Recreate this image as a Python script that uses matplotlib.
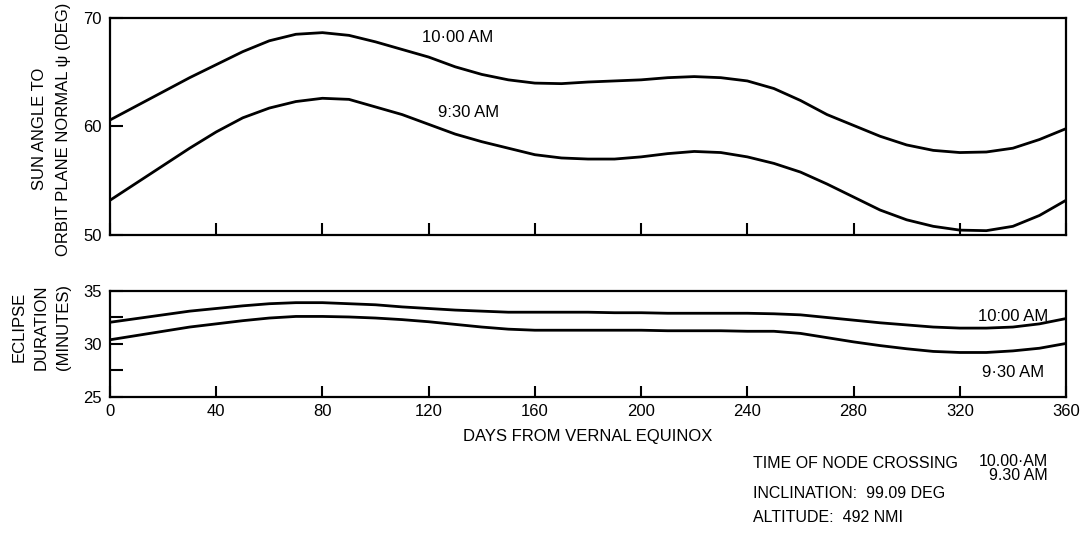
import matplotlib.pyplot as plt

plt.rcParams['font.family'] = ['Liberation Sans', 'DejaVu Sans']

# days from vernal equinox, every 10 days
days = list(range(0, 361, 10))

# sun angle to orbit plane normal (deg)
sun_angle_1000 = [60.6, 61.9, 63.2, 64.5, 65.7, 66.9, 67.9, 68.5, 68.65, 68.4,
                  67.8, 67.1, 66.4, 65.5, 64.8, 64.3, 64.0, 63.95, 64.1, 64.2,
                  64.3, 64.5, 64.6, 64.5, 64.2, 63.5, 62.4, 61.1, 60.1, 59.1,
                  58.3, 57.8, 57.6, 57.65, 58.0, 58.8, 59.8]
sun_angle_0930 = [53.2, 54.8, 56.4, 58.0, 59.5, 60.8, 61.7, 62.3, 62.6, 62.5,
                  61.8, 61.1, 60.2, 59.3, 58.6, 58.0, 57.4, 57.1, 57.0, 57.0,
                  57.2, 57.5, 57.7, 57.6, 57.2, 56.6, 55.8, 54.7, 53.5, 52.3,
                  51.4, 50.8, 50.45, 50.4, 50.8, 51.8, 53.2]

# eclipse duration (minutes)
eclipse_1000 = [32.05, 32.4, 32.75, 33.1, 33.35, 33.6, 33.8, 33.9, 33.9, 33.8,
                33.7, 33.5, 33.35, 33.2, 33.1, 33.0, 33.0, 33.0, 33.0, 32.95,
                32.95, 32.9, 32.9, 32.9, 32.9, 32.85, 32.75, 32.5, 32.25, 32.0,
                31.8, 31.6, 31.5, 31.5, 31.6, 31.9, 32.4]
eclipse_0930 = [30.4, 30.8, 31.2, 31.6, 31.9, 32.2, 32.45, 32.6, 32.6, 32.55,
                32.45, 32.3, 32.1, 31.85, 31.6, 31.4, 31.3, 31.3, 31.3, 31.3,
                31.3, 31.25, 31.25, 31.25, 31.2, 31.2, 31.0, 30.6, 30.2, 29.85,
                29.55, 29.3, 29.2, 29.2, 29.35, 29.6, 30.05]

x_ticks = list(range(0, 361, 40))

W, H = 1083, 550
fig = plt.figure(figsize=(W / 100, H / 100), dpi=100)


def px_axes(x0, y0, x1, y1):
    return fig.add_axes([x0 / W, 1 - y1 / H, (x1 - x0) / W, (y1 - y0) / H])


def px_text(x, y, s, **kw):
    fig.text(x / W, 1 - y / H, s, **kw)


lw = 2.0
fs = 12

# top panel: sun angle
ax1 = px_axes(110, 18, 1066, 235)
ax1.plot(days, sun_angle_1000, color='black', linewidth=lw, solid_joinstyle='round')
ax1.plot(days, sun_angle_0930, color='black', linewidth=lw, solid_joinstyle='round')
ax1.set_xlim(0, 360)
ax1.set_ylim(50, 70)
ax1.set_xticks(x_ticks)
ax1.set_xticklabels([])
ax1.set_yticks([50, 60, 70])
ax1.tick_params(axis='x', direction='in', length=9, width=1.5, bottom=True)
ax1.tick_params(axis='y', direction='in', length=9, width=1.5, labelsize=fs, pad=6)
ax1.text(131, 68.2, '10·00 AM', ha='center', va='center', fontsize=fs)
ax1.text(135, 61.3, '9:30 AM', ha='center', va='center', fontsize=fs)

# bottom panel: eclipse duration
ax2 = px_axes(110, 291, 1066, 397)
ax2.plot(days, eclipse_1000, color='black', linewidth=lw, solid_joinstyle='round')
ax2.plot(days, eclipse_0930, color='black', linewidth=lw, solid_joinstyle='round')
ax2.set_xlim(0, 360)
ax2.set_ylim(25, 35)
ax2.set_xticks(x_ticks)
ax2.set_yticks([25, 30, 35])
ax2.set_yticks([27.5, 32.5], minor=True)
ax2.tick_params(axis='x', direction='in', length=8, width=1.5, labelsize=fs, pad=5)
ax2.tick_params(axis='y', which='both', direction='in', length=9, width=1.5,
                labelsize=fs, pad=6)
ax2.set_xlabel('DAYS FROM VERNAL EQUINOX', fontsize=fs, labelpad=7)
ax2.text(340, 32.55, '10:00 AM', ha='center', va='center', fontsize=fs)
ax2.text(340, 27.35, '9·30 AM', ha='center', va='center', fontsize=fs)

for ax in (ax1, ax2):
    for sp in ax.spines.values():
        sp.set_linewidth(1.6)

# y axis labels
px_text(40, 129, 'SUN ANGLE TO', rotation=90, ha='center', va='center', fontsize=fs)
px_text(64, 129, 'ORBIT PLANE NORMAL ψ (DEG)', rotation=90, ha='center',
        va='center', fontsize=fs)
px_text(19, 327, 'ECLIPSE', rotation=90, ha='center', va='center', fontsize=fs)
px_text(41, 327, 'DURATION', rotation=90, ha='center', va='center', fontsize=fs)
px_text(63, 327, '(MINUTES)', rotation=90, ha='center', va='center', fontsize=fs)

# orbit parameters block
fs2 = 11.5
px_text(753, 463, 'TIME OF NODE CROSSING', ha='left', va='center', fontsize=fs2)
px_text(1048, 462, '10.00·AM', ha='right', va='center', fontsize=fs2)
px_text(1048, 475, '9.30 AM', ha='right', va='center', fontsize=fs2)
px_text(753, 494, 'INCLINATION:  99.09 DEG', ha='left', va='center', fontsize=fs2)
px_text(753, 518, 'ALTITUDE:  492 NMI', ha='left', va='center', fontsize=fs2)

fig.savefig('out.png', dpi=100)
